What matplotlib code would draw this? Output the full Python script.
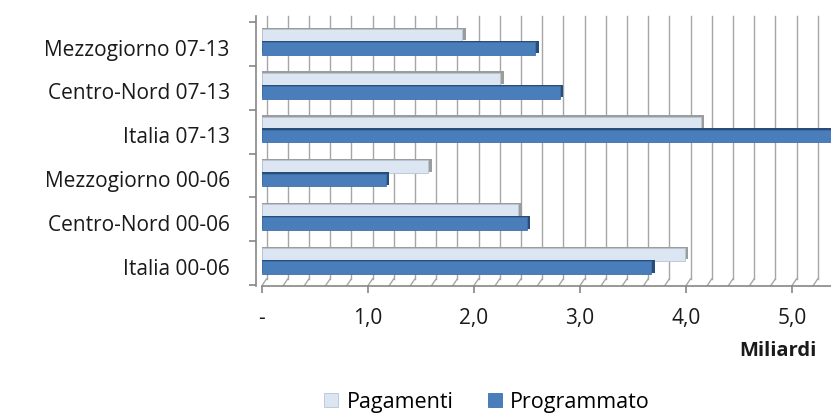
import matplotlib.pyplot as plt
import numpy as np

# categories from bottom to top
categories = ["Italia 00-06", "Centro-Nord 00-06", "Mezzogiorno 00-06",
              "Italia 07-13", "Centro-Nord 07-13", "Mezzogiorno 07-13"]
pagamenti = [3.99, 2.42, 1.57, 4.14, 2.25, 1.89]
programmato = [3.67, 2.50, 1.17, 5.39, 2.81, 2.58]
x_ticks = [0, 1, 2, 3, 4, 5]
x_tick_labels = ["-", "1,0", "2,0", "3,0", "4,0", "5,0"]

plt.rcParams['font.family'] = ['Open Sans', 'DejaVu Sans']

col_pag = "#dce6f2"
col_pag_side = "#9c9c9c"
col_prog = "#4a7ebb"
col_prog_side = "#284d7a"
grid_col = "#a6a6a6"
axis_col = "#868686"
text_col = "#1a1a1a"

fig = plt.figure(figsize=(8.31, 4.14), dpi=100)
ax = fig.add_axes([0.315, 0.307, 0.685, 0.652])

xmax = 5.37
ymin, ymax = -0.57, 5.59
ax.set_xlim(0, xmax)
ax.set_ylim(ymin, ymax)

# back wall grid every 0.2 and the slanted lines on the floor
wall_dx, wall_dy = 0.045, 0.16
for gx in np.arange(0, xmax, 0.2):
    ax.plot([gx + wall_dx] * 2, [ymin + wall_dy, ymax], color=grid_col,
            lw=1.0, zorder=1, clip_on=False)
    ax.plot([gx, gx + wall_dx], [ymin, ymin + wall_dy], color=grid_col,
            lw=1.0, zorder=1)

y = np.arange(len(categories))
h = 0.29
dx, dy = 0.035, 0.03
y_pag = y + 0.15
y_prog = y - 0.15

# depth faces first, then the front faces
ax.barh(y_pag + dy, np.array(pagamenti) + dx, height=h,
        color=col_pag_side, zorder=2)
ax.barh(y_pag, pagamenti, height=h, color=col_pag, edgecolor="#b8c4d2",
        linewidth=0.6, zorder=3, label="Pagamenti")
ax.barh(y_prog + dy, np.array(programmato) + dx, height=h,
        color=col_prog_side, zorder=4)
ax.barh(y_prog, programmato, height=h, color=col_prog, edgecolor="#3f70ab",
        linewidth=0.6, zorder=5, label="Programmato")

ax.set_yticks(y - 0.11)
ax.set_yticklabels(categories)
ax.set_yticks(np.arange(-0.55, len(categories), 1), minor=True)
ax.tick_params(axis="y", which="major", length=0, pad=19,
               labelsize=15, labelcolor=text_col)
ax.tick_params(axis="y", which="minor", length=5, width=1.2,
               color=axis_col, direction="out")

ax.set_xticks(x_ticks)
ax.set_xticklabels(x_tick_labels)
ax.tick_params(axis="x", which="major", length=5, width=1.2, color=axis_col,
               pad=10, labelsize=15, labelcolor=text_col)

for s in ["top", "right"]:
    ax.spines[s].set_visible(False)
for s in ["left", "bottom"]:
    ax.spines[s].set_color(axis_col)
    ax.spines[s].set_linewidth(1.2)
ax.spines["left"].set_position(("outward", 4))

fig.text(0.983, 0.152, "Miliardi", fontsize=14.5, fontweight="bold",
         ha="right", va="center", color=text_col)

handles, labels = ax.get_legend_handles_labels()
fig.legend(handles, labels, loc="center", bbox_to_anchor=(0.586, 0.027),
           ncol=2, frameon=False, fontsize=15.5, handlelength=0.65,
           handleheight=0.65, handletextpad=0.4, columnspacing=1.6)

fig.savefig("out.png", dpi=100)
